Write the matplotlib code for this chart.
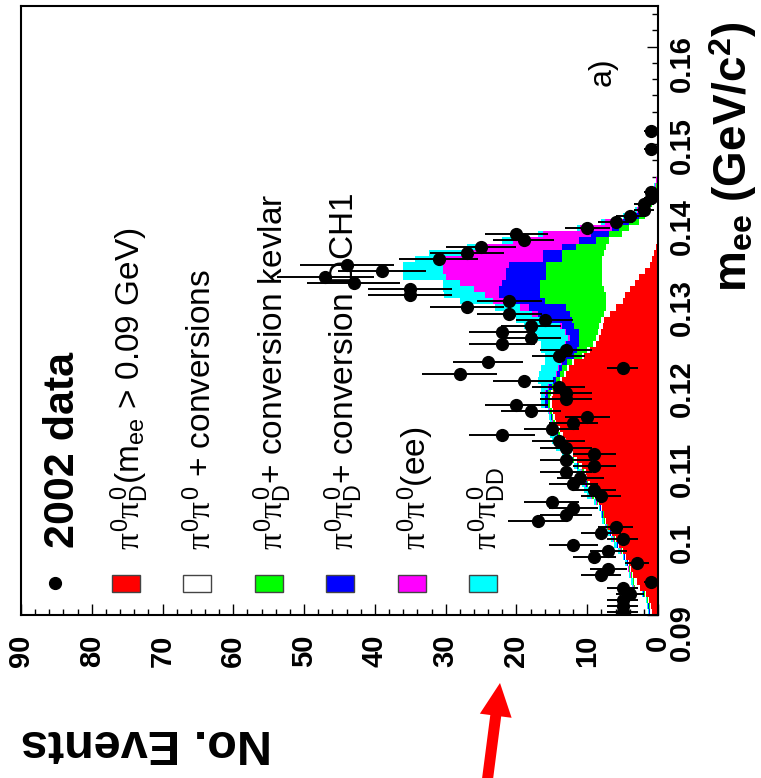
import numpy as np
import matplotlib
matplotlib.use("Agg")
import matplotlib.pyplot as plt
from matplotlib.patches import FancyArrow, Rectangle
from matplotlib.lines import Line2D

plt.rcParams['font.family'] = ['Liberation Sans', 'DejaVu Sans']
plt.rcParams['mathtext.fontset'] = 'custom'
plt.rcParams['mathtext.rm'] = 'Liberation Sans'
plt.rcParams['mathtext.bf'] = 'Liberation Sans:bold'
plt.rcParams['mathtext.it'] = 'Liberation Serif'

# m_ee binning (GeV/c^2)
m_lo, m_hi, bin_w = 0.09, 0.165, 0.00075

# 2002 data: counts per bin, from the first bin upwards
data_counts = [5, 5, 5, 4, 5, 1, 8, 7, 3, 9,
               7, 12, 5, 8, 6, 17, 13, 12, 15, 8,
               9, 12, 11, 13, 9, 13, 9, 13, 14, 22,
               15, 12, 10, 18, 20, 13, 13, 14, 19, 28,
               5, 24, 14, 13, 22, 18, 22, 18, 16, 21,
               27, 21, 35, 35, 43, 47, 39, 44, 31, 27,
               25, 19, 20, 10, 6, 4, 2, 2, 1, 1,
               0, 0, 0, 0, 0, 0, 1, 0, 0, 1]

# MC components (events per bin), stacked in this order
mc_pid = [0.8, 1.0, 1.3, 1.7, 2.5, 3.0, 3.5, 3.8, 4.1, 4.5,
          5.0, 5.5, 6.0, 6.5, 7.0, 7.4, 7.6, 7.9, 8.3, 8.8,
          9.2, 9.6, 10.0, 10.2, 10.8, 11.5, 12.0, 12.5, 13.0, 13.4,
          13.8, 14.4, 14.6, 14.8, 15.0, 15.0, 14.8, 14.2, 13.5, 13.0,
          12.6, 11.8, 10.4, 9.6, 8.8, 8.4, 8.0, 7.8, 7.6, 6.8,
          6.0, 5.0, 4.6, 4.0, 3.2, 2.7, 1.8, 1.2, 0.8, 0.5,
          0.3, 0.2, 0.1, 0, 0, 0, 0, 0, 0, 0,
          0, 0, 0, 0, 0]
mc_conv = [0.3, 0.2, 0.1, 0.2, 0.8, 0.4, 0.2, 0.2, 0.1, 0.1,
           0.1, 0.1, 0.1, 0.1, 0.1, 0.1, 0.1, 0.1, 0.2, 0.3,
           0.3, 0.3, 0.3, 0.3, 0.3, 0.3, 0.4, 0.4, 0.4, 0.4,
           0.3, 0.2, 0.2, 0.2, 0.3, 0.3, 0.3, 0.3, 0.3, 0.3,
           0.3, 0.3, 0.4, 0.4, 0.4, 0.4, 0.5, 0.5, 0.4, 0.8,
           1.4, 2.4, 2.8, 3.6, 4.7, 5.2, 6.1, 6.7, 7.1, 7.1,
           7.1, 6.7, 5.0, 4.1, 2.7, 1.8, 1.2, 0.8, 0.5, 0.3,
           0.2, 0.1, 0.05, 0, 0]
mc_kevlar = [0.1, 0.1, 0.1, 0.1, 0.1, 0.1, 0.1, 0.1, 0.1, 0.1,
             0.1, 0.1, 0.1, 0.1, 0.1, 0.1, 0.1, 0.1, 0.1, 0.2,
             0.2, 0.2, 0.2, 0.2, 0.2, 0.2, 0.2, 0.2, 0.3, 0.3,
             0.3, 0.2, 0.2, 0.2, 0.3, 0.3, 0.4, 0.5, 0.6, 0.5,
             0.6, 0.7, 1.0, 1.5, 1.9, 2.3, 2.6, 3.5, 4.1, 4.9,
             5.6, 8.6, 9.3, 9.1, 8.8, 7.9, 7.9, 7.9, 5.6, 5.9,
             4.2, 1.9, 1.8, 1.4, 1.4, 0.9, 0.8, 0.5, 0.3, 0.2,
             0.1, 0.05, 0.03, 0, 0]
mc_dch1 = [0.05, 0.05, 0.05, 0.05, 0.05, 0.05, 0.05, 0.05, 0.05, 0.05,
           0.05, 0.05, 0.05, 0.05, 0.05, 0.05, 0.05, 0.05, 0.05, 0.05,
           0.05, 0.1, 0.1, 0.1, 0.1, 0.1, 0.1, 0.1, 0.1, 0.1,
           0.1, 0.1, 0.1, 0.1, 0.3, 0.3, 0.3, 0.4, 0.4, 0.5,
           0.5, 0.8, 1.2, 1.5, 1.9, 1.4, 1.9, 1.7, 3.4, 4.5,
           5.2, 5.5, 5.7, 5.7, 5.3, 5.7, 5.7, 5.2, 2.8, 2.8,
           1.9, 2.3, 2.6, 1.0, 0.9, 0.8, 0.4, 0.3, 0.2, 0.1,
           0.05, 0.05, 0.02, 0.05, 0]
mc_ee = [0.05, 0.05, 0.05, 0.05, 0.05, 0.05, 0.05, 0.05, 0.05, 0.05,
         0.05, 0.05, 0.05, 0.05, 0.05, 0.05, 0.05, 0.05, 0.05, 0.05,
         0.05, 0.05, 0.05, 0.05, 0.05, 0.05, 0.05, 0.05, 0.05, 0.05,
         0.05, 0.05, 0.05, 0.05, 0.1, 0.1, 0.1, 0.1, 0.1, 0.1,
         0.1, 0.1, 0.1, 0.1, 0.1, 0.2, 0.2, 0.3, 0.5, 0.8,
         1.3, 1.8, 2.1, 3.6, 6.0, 8.5, 8.9, 9.4, 13.8, 10.7,
         11.5, 9.4, 6.8, 4.5, 2.5, 1.0, 0.6, 0.4, 0.3, 0.2,
         0.1, 0.05, 0.05, 0.05, 0.05]
mc_dd = [0.1, 0.1, 0.1, 0.1, 0.2, 0.2, 0.2, 0.1, 0.2, 0.2,
         0.3, 0.4, 0.3, 0.2, 0.2, 0.2, 0.2, 0.2, 0.3, 0.6,
         0.6, 0.55, 0.45, 0.55, 0.45, 0.25, 0.85, 1.15, 1.15, 1.05,
         0.75, 0.35, 0.25, 0.25, 0.5, 0.5, 0.6, 1.0, 2.1, 2.4,
         2.4, 2.3, 2.9, 3.4, 3.4, 4.3, 4.3, 5.2, 4.0, 3.7,
         3.5, 4.7, 5.7, 4.4, 2.4, 6.0, 5.6, 5.6, 4.3, 5.3,
         2.0, 1.5, 0.7, 0.5, 0.5, 0.5, 0.3, 0.2, 0.1, 0.1,
         0.05, 0.05, 0.05, 0.05, 0.05]

mc_colors = ['#ff0000', '#ffffff', '#00ff00', '#0000ff', '#ff00ff', '#00ffff']

legend_labels = [r'$\pi^{0}\pi^{0}_{\mathrm{D}}$(m$_{\mathrm{ee}}$ > 0.09 GeV)',
                 r'$\pi^{0}\pi^{0}$ + conversions',
                 r'$\pi^{0}\pi^{0}_{\mathrm{D}}$+ conversion kevlar',
                 r'$\pi^{0}\pi^{0}_{\mathrm{D}}$+ conversion DCH1',
                 r'$\pi^{0}\pi^{0}$(ee)',
                 r'$\pi^{0}\pi^{0}_{\mathrm{DD}}$']

event_ticks = [0, 10, 20, 30, 40, 50, 60, 70, 80, 90]
event_labels = ['0', '10', '20', '30', '40', '50', '60', '70', '80', '90']
mass_ticks = [0.09, 0.10, 0.11, 0.12, 0.13, 0.14, 0.15, 0.16]
mass_labels = ['0.09', '0.1', '0.11', '0.12', '0.13', '0.14', '0.15', '0.16']

W, H = 761, 778
fig = plt.figure(figsize=(W / 100, H / 100), dpi=100)


def fx(px):
    return px / W


def fy(py):
    return 1 - py / H


# the whole plot is turned on its side: m_ee runs upward, events run leftward
ax = fig.add_axes([fx(21), fy(615), fx(658) - fx(21), fy(6) - fy(615)])

n_mc = len(mc_pid)
edges = m_lo + bin_w * np.arange(n_mc + 1)
base = np.zeros(n_mc)
for vals, col in zip([mc_pid, mc_conv, mc_kevlar, mc_dch1, mc_ee, mc_dd], mc_colors):
    top = base + np.array(vals)
    ax.stairs(top, edges, baseline=base, orientation='horizontal',
              fill=True, color=col, lw=0, zorder=2)
    base = top

counts = np.array(data_counts, dtype=float)
centers = m_lo + bin_w * (np.arange(len(counts)) + 0.5)
sel = counts > 0
ax.errorbar(counts[sel], centers[sel], xerr=np.sqrt(counts[sel]), fmt='o',
            color='black', ms=8.5, elinewidth=1.4, capsize=0, zorder=5)

ax.set_xlim(90, 0)
ax.set_ylim(m_lo, m_hi)
ax.yaxis.tick_right()
ax.set_xticks(event_ticks)
ax.set_xticklabels(event_labels, fontweight='bold')
ax.set_xticks(np.arange(0, 91, 2), minor=True)
ax.set_yticks(mass_ticks)
ax.set_yticklabels(mass_labels, fontweight='bold')
ax.set_yticks(np.arange(0.09, 0.1651, 0.002), minor=True)
ax.tick_params(axis='both', which='both', direction='in', width=1)
ax.tick_params(axis='both', which='major', length=8)
ax.tick_params(axis='both', which='minor', length=4)
ax.tick_params(axis='x', labelsize=21, pad=14, labelrotation=90, top=False)
ax.tick_params(axis='y', labelsize=21, pad=7, labelrotation=90, left=False, right=True)
for sp in ax.spines.values():
    sp.set_linewidth(1.5)
    sp.set_zorder(6)

# axis titles
fig.text(fx(747), fy(292), r'm$_{\mathbf{ee}}$ (GeV/c$^{\mathbf{2}}$)', rotation=90,
         rotation_mode='anchor', ha='left', va='baseline', fontsize=33, fontweight='bold')
fig.text(fx(146), fy(743), 'No. Events', rotation=180, ha='center', va='center',
         fontsize=35, fontweight='bold')
fig.text(fx(603), fy(72), 'a)', rotation=90, ha='center', va='center', fontsize=23)

# legend, rotated like the rest of the picture
fig.add_artist(Line2D([fx(55)], [fy(583)], marker='o', ms=8.5, color='black',
                      transform=fig.transFigure))
fig.text(fx(74), fy(548), '2002 data', rotation=90, rotation_mode='anchor',
         ha='left', va='baseline', fontsize=31, fontweight='bold')
for k, (lab, col) in enumerate(zip(legend_labels, mc_colors)):
    xb = 140 + 71.4 * k
    fig.add_artist(Rectangle((fx(xb - 28), fy(592)), 28 / W, 17 / H, facecolor=col,
                             edgecolor='#444444', lw=1, transform=fig.transFigure))
    fig.text(fx(xb), fy(550), lab, rotation=90, rotation_mode='anchor',
             ha='left', va='baseline', fontsize=24)

# red arrow below the plot
fig.add_artist(FancyArrow(4.87, -0.05, 0.13, 1.00, width=0.11, head_width=0.32,
                          head_length=0.33, length_includes_head=True, color='#ff0000',
                          lw=0, transform=fig.dpi_scale_trans))

fig.savefig('out.png', dpi=100)
